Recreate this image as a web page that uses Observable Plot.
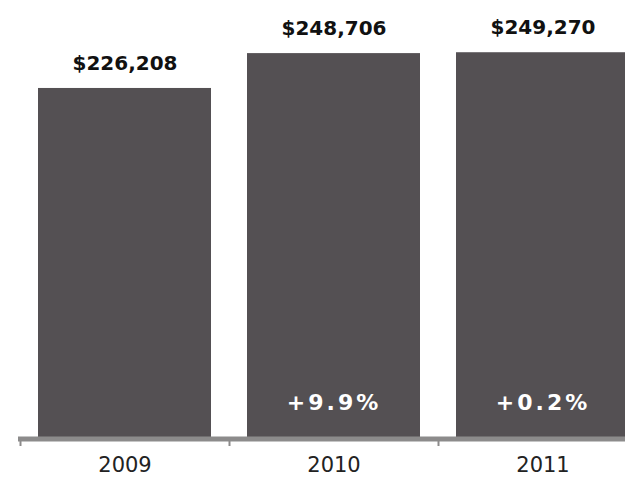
<!DOCTYPE html>
<html>
<head>
<meta charset="utf-8">
<script src="https://cdn.jsdelivr.net/npm/d3@7"></script>
<script src="https://cdn.jsdelivr.net/npm/@observablehq/plot@0.6"></script>
<style>
  html, body { margin: 0; padding: 0; background: #fff; overflow: hidden; }
  #chart svg { display: block; }
</style>
</head>
<body>
<div id="chart"></div>
<script>
const years = ["2009", "2010", "2011"];
const values = [226208, 248706, 249270];
const valueLabels = ["$226,208", "$248,706", "$249,270"];
const changeLabels = ["", "+9.9%", "+0.2%"];

const data = years.map((y, i) => ({
  i, year: y, value: values[i], label: valueLabels[i], change: changeLabels[i]
}));

const boundaries = d3.range(years.length + 1);
const centers = years.map((_, i) => i + 0.5);

const plot = Plot.plot({
  width: 625,
  height: 485,
  marginLeft: 18,
  marginRight: 0,
  marginTop: 0,
  marginBottom: 44,
  style: { background: "#fff", fontFamily: "'DejaVu Sans', sans-serif" },
  x: { type: "linear", domain: [0, years.length], range: [20, 647], label: null },
  y: { domain: [0, 250000], range: [438.5, 51.1], axis: null, label: null },
  marks: [
    Plot.rectY(data, {
      x1: "i", x2: d => d.i + 1, y: "value",
      insetLeft: 18, insetRight: 18, fill: "#545053"
    }),
    Plot.ruleY([0], { stroke: "#8c8b8b", strokeWidth: 5 }),
    Plot.axisX({
      ticks: boundaries, tickFormat: () => "", tickSize: 5, label: null,
      stroke: "#8c8b8b", strokeWidth: 2
    }),
    Plot.axisX({
      ticks: centers, tickFormat: d => years[Math.floor(d)], tickSize: 0, label: null,
      tickPadding: 16, fontSize: 21, fill: "#222", lineAnchor: "top"
    }),
    Plot.text(data, {
      x: d => d.i + 0.5, y: "value", text: "label",
      dy: -25, fontSize: 20, fontWeight: "bold", fill: "#111",
      lineAnchor: "middle"
    }),
    Plot.text(data, {
      x: d => d.i + 0.5, y: () => 0, text: "change",
      dy: -36, fontSize: 22, fontWeight: "bold", fill: "#fff",
      lineAnchor: "middle"
    })
  ]
});
d3.select(plot).selectAll("text").filter(function() {
  return /%/.test(this.textContent);
}).style("letter-spacing", "3px");
document.getElementById("chart").appendChild(plot);
</script>
</body>
</html>
